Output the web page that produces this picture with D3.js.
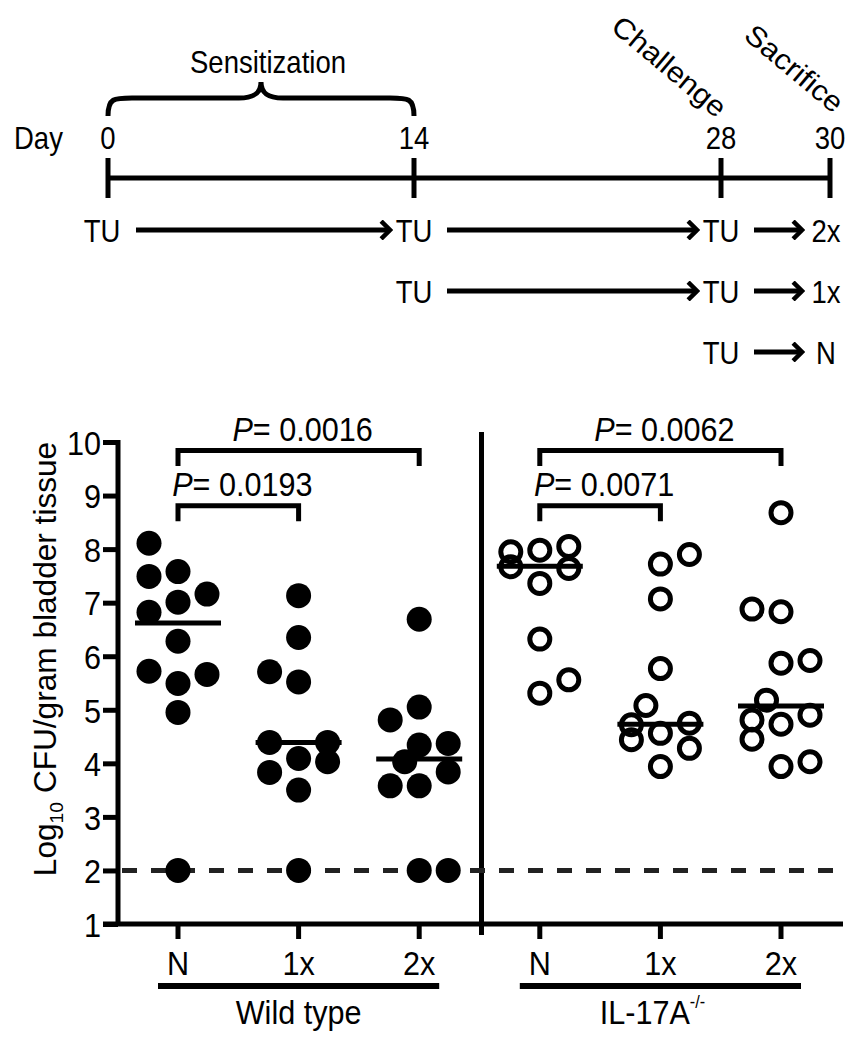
<!DOCTYPE html>
<html><head><meta charset="utf-8">
<script src="https://cdn.jsdelivr.net/npm/d3@7"></script>
<style>body{margin:0;background:#fff}svg{display:block}text{font-family:"Liberation Sans",Arial,Helvetica,sans-serif;fill:#000}</style>
</head><body><div id="chart"></div>
<script>
// ---------- data ----------
const days = [0, 14, 28, 30];
const dayLabels = ["0", "14", "28", "30"];
const phaseLabels = ["Challenge", "Sacrifice"];
const protocolLabels = ["2x", "1x", "N"];
const protocolFirstDay = [0, 14, 28];

const strains = ["Wild type", "IL-17A"];
const treatments = ["N", "1x", "2x"];
const categories = ["WT-N", "WT-1x", "WT-2x", "KO-N", "KO-1x", "KO-2x"];
const yTicks = [1, 2, 3, 4, 5, 6, 7, 8, 9, 10];
const detectionLimit = 2;

const wtN = [8.11, 7.58, 7.49, 7.16, 7.01, 6.82, 6.28, 5.72, 5.66, 5.49, 4.95, 2.0];
const wtNCol = [-1, 0, -1, 1, 0, -1, 0, -1, 1, 0, 0, 0];
const wt1x = [7.13, 6.35, 5.71, 5.52, 4.39, 4.39, 4.09, 4.03, 3.83, 3.50, 2.0];
const wt1xCol = [0, 0, -1, 0, -1, 1, 0, 1, -1, 0, 0];
const wt2x = [6.69, 5.05, 4.81, 4.37, 4.34, 4.03, 3.84, 3.58, 3.58, 2.0, 2.0];
const wt2xCol = [0, 0, -1, 1, 0, -0.5, 1, -1, 0, 0, 1];
const koN = [8.05, 7.98, 7.95, 7.67, 7.64, 7.36, 6.32, 5.56, 5.31];
const koNCol = [1, 0, -1, -1, 1, 0, 0, 1, 0];
const ko1x = [7.90, 7.72, 7.07, 5.77, 5.08, 4.75, 4.72, 4.56, 4.44, 4.28, 3.94];
const ko1xCol = [1, 0, 0, 0, -0.5, 1, -1, 0, -1, 1, 0];
const ko2x = [8.68, 6.88, 6.83, 5.92, 5.87, 5.18, 4.90, 4.81, 4.73, 4.45, 4.03, 3.94];
const ko2xCol = [0, -1, 0, 1, 0, -0.5, 1, -1, 0, -1, 1, 0];
const medians = [6.62, 4.39, 4.08, 7.68, 4.73, 5.07];

const pValues = ["0.0016", "0.0193", "0.0062", "0.0071"];
const pFrom = ["WT-N", "WT-N", "KO-N", "KO-N"];
const pTo = ["WT-2x", "WT-1x", "KO-2x", "KO-1x"];
const pTop = [9.84, 8.81, 9.84, 8.81];
const pLeg = [9.55, 8.52, 9.55, 8.52];

// ---------- setup ----------
const W = 861, H = 1050;
const svg = d3.select("#chart").append("svg").attr("width", W).attr("height", H);
const LW = 5;

function txt(parent, x, y, str, anchor, fs, sx) {
  return parent.append("text").attr("transform", `translate(${x},${y}) scale(${sx},1)`)
    .attr("text-anchor", anchor || "middle").attr("font-size", fs).text(str);
}
const topT = (p, x, y, s, a) => txt(p, x, y, s, a, 32, 0.86);
const chT = (p, x, y, s, a) => txt(p, x, y, s, a, 34, 0.9);

// ---------- timeline ----------
const xd = d3.scaleLinear().domain(days).range([108, 414, 721, 830]);
const tlY = 178;
topT(svg, 14, 149, "Day", "start");
days.forEach((d, i) => topT(svg, xd(d), 149, dayLabels[i]));
svg.append("line").attr("x1", xd(0)).attr("x2", xd(30)).attr("y1", tlY).attr("y2", tlY)
  .attr("stroke", "#000").attr("stroke-width", LW);
svg.selectAll(".dt").data(days).enter().append("line")
  .attr("x1", d => xd(d)).attr("x2", d => xd(d)).attr("y1", tlY - 20).attr("y2", tlY + 20)
  .attr("stroke", "#000").attr("stroke-width", LW);

// brace
{
  const a = xd(0), b = xd(14), m = (a + b) / 2, yb = 116, yh = 98, yp = 82;
  const p = `M${a},${yb} C${a},${yh} ${a + 6},${yh} ${a + 24},${yh} L${m - 22},${yh} C${m - 8},${yh} ${m},${yh - 4} ${m},${yp}`
    + ` C${m},${yh - 4} ${m + 8},${yh} ${m + 22},${yh} L${b - 24},${yh} C${b - 6},${yh} ${b},${yh} ${b},${yb}`;
  svg.append("path").attr("d", p).attr("fill", "none").attr("stroke", "#000").attr("stroke-width", LW);
  topT(svg, m + 7, 73, "Sensitization");
}
// phase labels
phaseLabels.forEach((d, i) => {
  svg.append("text").attr("font-size", 31).attr("text-anchor", "middle")
    .attr("transform", `translate(${xd(days[i + 2]) - (i ? 42 : 58)},${i ? 76 : 74}) rotate(40) scale(1,0.92)`)
    .text(d);
});

// protocol rows
const defs = svg.append("defs");
defs.append("marker").attr("id", "arr").attr("viewBox", "0 -9 12 18").attr("refX", 10).attr("refY", 0)
  .attr("markerUnits", "userSpaceOnUse").attr("markerWidth", 14).attr("markerHeight", 20).attr("orient", "auto")
  .append("path").attr("d", "M2,-8 L10,0 L2,8").attr("fill", "none").attr("stroke", "#000").attr("stroke-width", 4);

protocolLabels.forEach((lab, r) => {
  const y = 242 + r * 61;
  const tu = days.filter(d => d >= protocolFirstDay[r] && d < 30);
  const g = svg.append("g");
  tu.forEach(d => topT(g, xd(d) - (d === 0 ? 6 : 0), y, "TU"));
  topT(g, xd(30) - 4, y, lab);
  const stops = tu.concat([30]);
  for (let i = 0; i < stops.length - 1; i++) {
    const x1 = xd(stops[i]) + (stops[i] === 0 ? 28 : 33);
    const x2 = xd(stops[i + 1]) - (stops[i + 1] === 30 ? 28 : 24);
    g.append("line").attr("x1", x1).attr("x2", x2).attr("y1", y - 12).attr("y2", y - 12)
      .attr("stroke", "#000").attr("stroke-width", LW).attr("marker-end", "url(#arr)");
  }
});

// ---------- scatter chart ----------
const x = d3.scalePoint().domain(categories).range([178, 781]);
const y = d3.scaleLinear().domain([1, 10]).range([924, 442]);
const slot = 29;
const axisX0 = 118;

// y axis
const yAxis = svg.append("g").attr("transform", `translate(${axisX0},0)`)
  .call(d3.axisLeft(y).tickValues(yTicks).tickSize(15).tickSizeOuter(0).tickPadding(3));
yAxis.select(".domain").attr("stroke-width", LW).attr("d", `M0,${y(10) - 2}V${y(1)}`);
yAxis.selectAll(".tick line").attr("stroke-width", LW);
yAxis.selectAll(".tick text").attr("font-size", 34).attr("font-family", "Liberation Sans, Arial, sans-serif")
  .attr("dy", "0.36em").attr("x", -19).attr("transform", "scale(0.9,1)");

// y title
{
  const t = svg.append("text").attr("transform", `translate(56,${(y(10) + y(1)) / 2 - 24}) rotate(-90) scale(1.02,1)`)
    .attr("text-anchor", "middle").attr("font-size", 31);
  t.append("tspan").text("Log");
  t.append("tspan").attr("font-size", 19).attr("dy", 7).text("10");
  t.append("tspan").attr("dy", -7).text(" CFU/gram bladder tissue");
}

// x axis
svg.append("line").attr("x1", axisX0 - 15).attr("x2", 843).attr("y1", y(1)).attr("y2", y(1))
  .attr("stroke", "#000").attr("stroke-width", LW);
svg.selectAll(".xt").data(categories).enter().append("line")
  .attr("x1", d => x(d)).attr("x2", d => x(d)).attr("y1", y(1)).attr("y2", y(1) + 15)
  .attr("stroke", "#000").attr("stroke-width", LW);
categories.forEach((d, i) => chT(svg, x(d), y(1) + 51, treatments[i % 3]));

// divider
const xDiv = (x("WT-2x") + x("KO-N")) / 2 + 2;
svg.append("line").attr("x1", xDiv).attr("x2", xDiv).attr("y1", 432).attr("y2", y(1) + 11)
  .attr("stroke", "#000").attr("stroke-width", LW);

// strain underlines and labels
strains.forEach((s, i) => {
  const a = x(categories[i * 3]) - 20, b = x(categories[i * 3 + 2]) + 20;
  svg.append("line").attr("x1", a).attr("x2", b).attr("y1", 986).attr("y2", 986).attr("stroke", "#000").attr("stroke-width", 6);
  const t = chT(svg, (a + b) / 2 - (i ? 8 : 0), 1024, s);
  if (i === 1) t.append("tspan").attr("font-size", 18).attr("dy", -16).text("-/-");
});

// detection limit
svg.append("line").attr("x1", axisX0 + 4).attr("x2", 840).attr("y1", y(detectionLimit)).attr("y2", y(detectionLimit))
  .attr("stroke", "#222").attr("stroke-width", LW).attr("stroke-dasharray", "15,14");

// points
const groups = [
  { c: "WT-N", v: wtN, k: wtNCol, filled: true },
  { c: "WT-1x", v: wt1x, k: wt1xCol, filled: true },
  { c: "WT-2x", v: wt2x, k: wt2xCol, filled: true },
  { c: "KO-N", v: koN, k: koNCol, filled: false },
  { c: "KO-1x", v: ko1x, k: ko1xCol, filled: false },
  { c: "KO-2x", v: ko2x, k: ko2xCol, filled: false }
];
groups.forEach(g => {
  const pts = g.v.map((v, i) => ({ v, k: g.k[i] }));
  svg.append("g").selectAll("circle").data(pts).enter().append("circle")
    .attr("cx", d => x(g.c) + d.k * slot).attr("cy", d => y(d.v))
    .attr("r", g.filled ? 12.5 : 10)
    .attr("fill", g.filled ? "#000" : "none")
    .attr("stroke", "#000").attr("stroke-width", g.filled ? 0 : 5);
});
// medians
svg.selectAll(".md").data(medians).enter().append("line")
  .attr("x1", (d, i) => x(categories[i]) - 43).attr("x2", (d, i) => x(categories[i]) + 43)
  .attr("y1", d => y(d)).attr("y2", d => y(d)).attr("stroke", "#000").attr("stroke-width", LW);

// significance brackets
pValues.forEach((p, i) => {
  const a = x(pFrom[i]), b = x(pTo[i]);
  svg.append("path").attr("d", `M${a},${y(pLeg[i])}V${y(pTop[i])}H${b}V${y(pLeg[i])}`)
    .attr("fill", "none").attr("stroke", "#000").attr("stroke-width", LW);
  const t = chT(svg, (a + b) / 2 + 4, y(pTop[i]) - 10, "");
  t.append("tspan").attr("font-style", "italic").text("P");
  t.append("tspan").text("= " + p);
});
</script></body></html>
